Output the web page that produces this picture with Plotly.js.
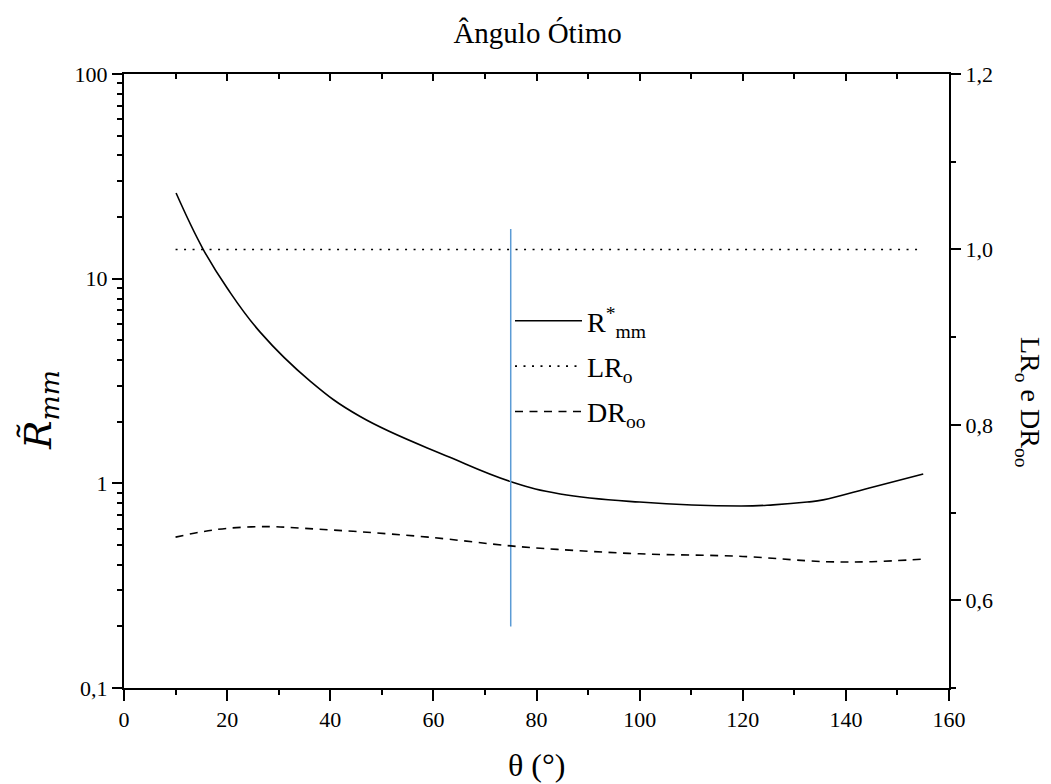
<!DOCTYPE html>
<html>
<head>
<meta charset="utf-8">
<script src="https://cdn.plot.ly/plotly-3.0.1.min.js"></script>
<style>html,body{margin:0;padding:0;background:#fff;}#chart{width:1051px;height:784px;}</style>
</head>
<body>
<div id="chart"></div>
<script>
// ---- data ----
const thetaR = [10.1, 15.3, 20, 26.4, 36.1, 45.8, 63.2, 75.2, 84.6, 100, 119.5, 125.9, 132.5, 135.6, 145.3, 155];
const rmm    = [26.2, 14.0, 9.0, 5.48, 3.16, 2.12, 1.34, 1.015, 0.887, 0.81, 0.775, 0.785, 0.81, 0.83, 0.96, 1.11];

const thetaLR = [10, 155];
const lro     = [1.0, 1.0];

const thetaDR = [10, 15, 20, 28, 35, 46, 59, 75, 84, 100, 120, 136, 145, 155];
const droo    = [0.672, 0.678, 0.682, 0.684, 0.682, 0.678, 0.672, 0.662, 0.658, 0.653, 0.650, 0.644, 0.644, 0.647];

const markerX = [75, 75];
const markerY = [0.2, 17.5];

const yLeftTickVals = [0.1, 1, 10, 100];
const yLeftTickText = ['0,1', '1', '10', '100'];
const yLeftMinor = [0.2,0.3,0.4,0.5,0.6,0.7,0.8,0.9,2,3,4,5,6,7,8,9,20,30,40,50,60,70,80,90];

const names = ['R<sup>*</sup><sub>mm</sub>', 'LR<sub>o</sub>', 'DR<sub>oo</sub>'];

const FONT = 'Liberation Serif';

const traces = [
  {x: thetaR, y: rmm, name: names[0], legendgroup: 'g1', type: 'scatter', mode: 'lines',
   line: {color: '#000', width: 1.6, shape: 'spline', smoothing: 1.2}, xaxis: 'x', yaxis: 'y'},
  {x: thetaLR, y: lro, name: names[1], legendgroup: 'g2', type: 'scatter', mode: 'lines',
   line: {color: '#000', width: 1.6, dash: '2px,6.5px'}, xaxis: 'x2', yaxis: 'y2'},
  {x: thetaDR, y: droo, name: names[2], legendgroup: 'g3', type: 'scatter', mode: 'lines',
   line: {color: '#000', width: 1.6, dash: '8px,6.5px', shape: 'spline', smoothing: 1.0}, xaxis: 'x', yaxis: 'y2'},
  {x: markerX, y: markerY, type: 'scatter', mode: 'lines', showlegend: false, hoverinfo: 'skip',
   line: {color: '#5b9bd5', width: 1.5}, xaxis: 'x', yaxis: 'y'}
];

const axisCommon = {
  showgrid: false, zeroline: false, showline: true, linecolor: '#000', linewidth: 2,
  tickcolor: '#000', tickwidth: 2, tickfont: {family: FONT, size: 22, color: '#000'}
};

const layout = {
  width: 1051, height: 784,
  margin: {l: 124, r: 102, t: 74, b: 96},
  paper_bgcolor: '#fff', plot_bgcolor: '#fff',
  separators: ',.',
  font: {family: FONT, color: '#000'},
  showlegend: true,
  title: {text: 'Ângulo Ótimo', font: {family: FONT, size: 29, color: '#000'},
          x: 0.5115, xref: 'container', xanchor: 'center', y: 1 - 33/784, yref: 'container', yanchor: 'middle'},
  xaxis: Object.assign({}, axisCommon, {
    range: [0, 160], dtick: 20, tick0: 0, ticks: 'outside', ticklen: 11,
    minor: {dtick: 10, ticks: 'outside', ticklen: 5, tickwidth: 2, tickcolor: '#000'},
    mirror: false
  }),
  xaxis2: Object.assign({}, axisCommon, {
    overlaying: 'x', side: 'top', matches: 'x', anchor: 'y2',
    range: [0, 160], dtick: 20, tick0: 0, ticks: 'inside', ticklen: 7, showticklabels: false,
    minor: {dtick: 10, ticks: 'inside', ticklen: 5, tickwidth: 2, tickcolor: '#000'}
  }),
  yaxis: Object.assign({}, axisCommon, {
    type: 'log', range: [-1, 2], tickvals: yLeftTickVals, ticktext: yLeftTickText,
    ticks: 'outside', ticklen: 10,
    minor: {tickvals: yLeftMinor, ticks: 'outside', ticklen: 5, tickwidth: 2, tickcolor: '#000'}
  }),
  yaxis2: Object.assign({}, axisCommon, {
    overlaying: 'y', side: 'right', anchor: 'x',
    range: [0.5, 1.2], dtick: 0.2, tick0: 0, tickformat: '.1f',
    ticks: 'outside', ticklen: 10,
    minor: {dtick: 0.1, tick0: 0, ticks: 'outside', ticklen: 5, tickwidth: 2, tickcolor: '#000'}
  }),
  legend: {
    x: (510 - 124) / 825, y: (688 - 296) / 614, xanchor: 'left', yanchor: 'top',
    bgcolor: 'rgba(0,0,0,0)', borderwidth: 0, traceorder: 'grouped',
    font: {family: FONT, size: 28, color: '#000'},
    tracegroupgap: 6, itemwidth: 67
  },
  annotations: [
    {text: '<i>R&#771;</i><sub><i>mm</i></sub>', xref: 'paper', yref: 'paper',
     x: (40 - 124) / 825, y: (688 - 410) / 614, xanchor: 'center', yanchor: 'middle', showarrow: false,
     textangle: -90, font: {family: 'DejaVu Serif', size: 38, color: '#000'}},
    {text: 'LR<sub>o</sub> e DR<sub>oo</sub>', xref: 'paper', yref: 'paper',
     x: (1029 - 124) / 825, y: (688 - 402) / 614, xanchor: 'center', yanchor: 'middle', showarrow: false,
     textangle: 90, font: {family: FONT, size: 28, color: '#000'}},
    {text: 'θ (°)', xref: 'paper', yref: 'paper',
     x: 0.5, y: -(765 - 688) / 614, xanchor: 'center', yanchor: 'middle', showarrow: false,
     font: {family: FONT, size: 32, color: '#000'}}
  ]
};

Plotly.newPlot('chart', traces, layout, {staticPlot: true, displayModeBar: false});
</script>
</body>
</html>
